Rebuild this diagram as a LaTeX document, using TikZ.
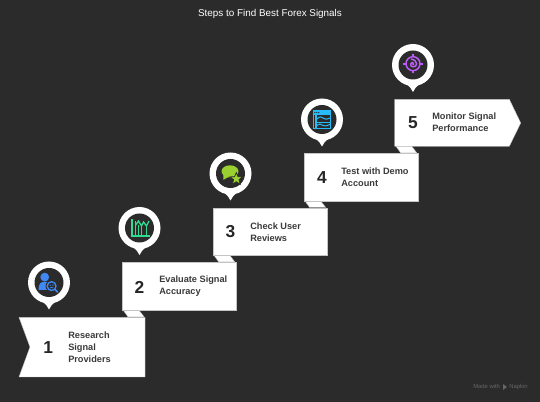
\documentclass[tikz,border=0pt]{standalone}
\usepackage{fontspec}
\setmainfont{Liberation Sans}
\definecolor{bg}{HTML}{2B2B2B}
\definecolor{ink}{HTML}{262626}
\definecolor{lab}{HTML}{3A3A3A}
\definecolor{edge}{HTML}{C4C4C4}
\definecolor{ublue}{HTML}{3F88F5}
\definecolor{ugreen}{HTML}{2EDC90}
\definecolor{ulime}{HTML}{9AD030}
\definecolor{usky}{HTML}{29BBF8}
\definecolor{upurple}{HTML}{BC5CFA}
\definecolor{foot}{HTML}{666666}
\tikzset{
  panel/.style={fill=white,draw=edge,line width=0.3pt},
  foldstrip/.style={fill=white,draw=edge,line width=0.3pt},
  numlabel/.style={font=\fontsize{13}{15}\selectfont\bfseries\color{ink},inner sep=0pt,anchor=center},
  steplabel/.style={font=\fontsize{6.9}{9}\selectfont\bfseries\color{lab},inner sep=0pt,anchor=west,align=left},
  pinouter/.style={fill=white,draw=none},
  pininner/.style={fill=bg,draw=none},
  footlabel/.style={font=\fontsize{4.4}{5}\selectfont,text=foot,inner sep=0pt,anchor=base west},
}
\newcommand{\mypin}[2]{%
  \fill[pinouter] (#1-6,#2+19.5) .. controls (#1-3,#2+21) and (#1-2,#2+24) .. (#1,#2+27) .. controls (#1+2,#2+24) and (#1+3,#2+21) .. (#1+6,#2+19.5) -- cycle;
  \fill[pinouter] (#1,#2) circle[radius=21];
  \fill[pininner] (#1,#2) circle[radius=14.5];
}
\newcommand{\myfold}[2]{%
  \draw[foldstrip] (#1+1.3,#2) -- (#1+17,#2) -- (#1+22,#2+6.5) -- (#1+6,#2+6.5) -- cycle;
}
\begin{document}
\begin{tikzpicture}[x=0.75pt,y=-0.75pt]
\useasboundingbox (0,0) rectangle (540,402);
\fill[bg] (0,0) rectangle (540,402);

\node[font=\fontsize{7.4}{9}\selectfont,text=white,inner sep=0pt] (title) at (270,14) {Steps to Find Best Forex Signals};

% folds
\myfold{122}{310.3}
\myfold{212.7}{255.3}
\myfold{303.7}{201}
\myfold{394.7}{146.3}

% panels
\draw[panel] (19,317.3) -- (145,317.3) -- (145,377) -- (19,377) -- (30,347) -- cycle;
\draw[panel] (122,262.7) rectangle (236,310.3);
\draw[panel] (212.7,208.3) rectangle (327,255.3);
\draw[panel] (303.7,153.3) rectangle (418,201);
\draw[panel] (394.7,99.3) -- (509.3,99.3) -- (520.7,123) -- (509.3,146.3) -- (394.7,146.3) -- cycle;

% numbers
\node[numlabel] (n1) at (48.3,347.3) {1};
\node[numlabel] (n2) at (139.5,287) {2};
\node[numlabel] (n3) at (230.5,232) {3};
\node[numlabel] (n4) at (322,177.3) {4};
\node[numlabel] (n5) at (413,122.7) {5};

% labels
\node[steplabel] (t1) at (68,347.2) {Research\\Signal\\Providers};
\node[steplabel] (t2) at (159,286.3) {Evaluate Signal\\Accuracy};
\node[steplabel] (t3) at (250,232) {Check User\\Reviews};
\node[steplabel] (t4) at (341,177.3) {Test with Demo\\Account};
\node[steplabel] (t5) at (432,122.7) {Monitor Signal\\Performance};

% pins
\mypin{49}{282.5}
\mypin{139.5}{228}
\mypin{230.5}{173.5}
\mypin{322}{119.5}
\mypin{413}{65}

% icon 1: person with magnifier
\begin{scope}[shift={(49,282.5)}]
  \fill[ublue] (-4.3,-5.4) circle[radius=4.4];
  \fill[ublue] (-10.5,7.4) .. controls (-10.5,1) and (-8,-0.8) .. (-4,-0.8) .. controls (-1,-0.8) and (1,0) .. (3,1) -- (0,7.4) -- cycle;
  \fill[bg] (2.6,3.6) circle[radius=6];
  \draw[ublue,line width=1pt] (2.6,3.6) circle[radius=4.4];
  \fill[ublue] (1.2,2.7) circle[radius=0.7] (4,2.7) circle[radius=0.7];
  \draw[ublue,line width=0.5pt] (0.9,5.7) .. controls (1.6,4.3) and (3.6,4.3) .. (4.3,5.7);
  \draw[ublue,line width=1.2pt] (5.9,6.9) -- (8.8,9.8);
\end{scope}

% icon 2: chart
\begin{scope}[shift={(139.5,228)},ugreen,line width=1pt]
  \draw (-7.5,-8.5) -- (-7.5,8) -- (10,8);
  \draw (-3.8,-7) -- (-3.8,8);
  \draw (2,-3) -- (2,8);
  \draw (7,-2) -- (7,8);
  \draw (-3.8,-3) -- (-1,-7) -- (2,-2) -- (4,-6) -- (7,-2) -- (9.5,-7);
  \draw[line width=0.7pt] (-0.8,-3) -- (-0.8,8);
\end{scope}

% icon 3: speech bubble with star
\begin{scope}[shift={(230.5,173.5)}]
  \fill[ulime] (-0.5,-2.2) ellipse[x radius=8.5,y radius=6];
  \fill[ulime] (-7,0) -- (-7.2,6.3) -- (-1,3) -- cycle;
  \fill[ulime,draw=bg,line width=0.55pt] (5.8,-1) -- (7.5,3.2) -- (12,3.4) -- (8.5,6.2) -- (9.8,10.8) -- (5.8,8.2) -- (1.8,10.8) -- (3.1,6.2) -- (-0.4,3.4) -- (4.1,3.2) -- cycle;
\end{scope}

% icon 4: window with graphs
\begin{scope}[shift={(322,119.5)}]
  \fill[usky] (-8.9,-9.5) rectangle (9.2,9.5);
  \fill[bg] (-6.6,-4) rectangle (-7.6,8.4);
  \fill[bg] (-5.2,-4) rectangle (8.2,2.2);
  \fill[bg] (-5.2,3.4) rectangle (8.2,8.4);
  \fill[bg] (-7.2,-7) circle[radius=0.7] (-5.2,-7) circle[radius=0.7] (-3.2,-7) circle[radius=0.7];
  \draw[usky,line width=0.75pt] (-5.2,-0.5) .. controls (-2,-3.5) and (0,-3) .. (2,-1) .. controls (3.5,0.5) and (5,-0.5) .. (8.2,-1.5);
  \draw[usky,line width=0.75pt] (-5.2,6) .. controls (-3,4) and (-1,4) .. (1,6) .. controls (3,7.5) and (5,6) .. (8.2,4.8);
\end{scope}

% icon 5: target with spiral
\begin{scope}[shift={(413,65)},upurple]
  \draw[line width=1.1pt] (0,-1.3) circle[radius=7];
  \draw[line width=1.5pt] (0,-10.5) -- (0,-7.5) (0,5) -- (0,8) (-10,-1.3) -- (-7,-1.3) (7,-1.3) -- (10,-1.3);
  \draw[line width=1.1pt] (-2.6,-0.6) .. controls (-2.6,2.6) and (3.6,2.8) .. (3.6,-1.2) .. controls (3.6,-3.8) and (1.5,-5.2) .. (-2,-6);
  \draw[line width=1.1pt] (-2.6,-0.6) .. controls (-2.6,-2.8) and (0.5,-3) .. (1,-1.5);
  \fill (0.2,-0.8) circle[radius=1.2];
\end{scope}

% footer
\node[footlabel] (made) at (473,389) {Made with};
\node[footlabel] (napkin) at (509,389) {Napkin};
\fill[foot] (503,384) -- (507,387) -- (503,390) -- cycle;
\end{tikzpicture}
\end{document}
